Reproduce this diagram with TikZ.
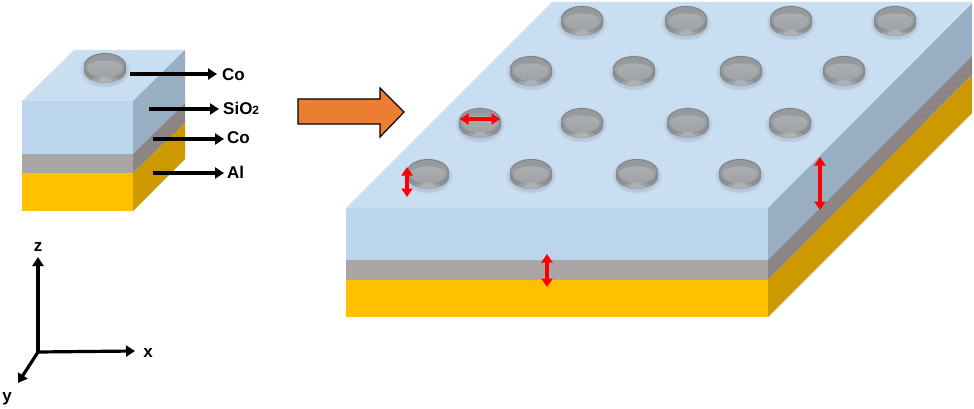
\documentclass[tikz,border=0pt]{standalone}
\usepackage{fontspec}
\setmainfont{Liberation Sans}
\usetikzlibrary{arrows.meta}
\definecolor{topblue}{HTML}{C9DEF1}
\definecolor{frontblue}{HTML}{BBD6EC}
\definecolor{sideblue}{HTML}{97AEC3}
\definecolor{frontgrey}{HTML}{ABA6A6}
\definecolor{sidegrey}{HTML}{8C8585}
\definecolor{frontgold}{HTML}{FFC000}
\definecolor{sidegold}{HTML}{CC9900}
\definecolor{arroworange}{HTML}{ED7D31}
\definecolor{rimdark}{HTML}{7E8388}
\definecolor{rimlight}{HTML}{8F9499}
\definecolor{facedark}{HTML}{94989C}
\definecolor{facelight}{HTML}{ABADB0}
\definecolor{lensgrey}{HTML}{A0A3A6}
\tikzset{
  x=1pt,y=-1pt,
  labeltext/.style={font=\bfseries\fontsize{17}{19}\selectfont,text=black,inner sep=0pt,anchor=west},
  axistext/.style={font=\bfseries\fontsize{17}{19}\selectfont,text=black,inner sep=0pt},
  blackarrow/.style={draw=black,line width=3.2pt,-{Triangle[length=9pt,width=11pt]}},
  axisarrow/.style={draw=black,line width=3.2pt,-{Triangle[length=9pt,width=11pt]}},
  redarrow/.style={draw=red,line width=4pt,{Triangle[length=8.5pt,width=11pt]}-{Triangle[length=8.5pt,width=11pt]}},
  pics/disk/.style={code={
    \foreach \g in {25,24,23,22}{\fill[black,opacity=.025] (0,2) ellipse ({\g} and {\g*.72});}
    \path[top color=rimdark,bottom color=rimlight]
      (-21,-2) arc[start angle=180,end angle=0,x radius=21,y radius=-13]
      -- (21,3) arc[start angle=0,end angle=180,x radius=21,y radius=12] -- cycle;
    \path[top color=facedark,bottom color=lensgrey] (0,-2) ellipse (19.5 and 12);
    \path[top color=facelight,bottom color=lensgrey]
      (-17.5,-1) arc[start angle=180,end angle=0,x radius=17.5,y radius=-6.5]
      arc[start angle=0,end angle=180,x radius=17.5,y radius=10] -- cycle;
    \fill[white,opacity=.14] (0,12) ellipse (13 and 3);
    \fill[white,opacity=.18] (0,12.3) ellipse (7.5 and 2.2);
  }}
}
\begin{document}
\begin{tikzpicture}
\useasboundingbox (0,0) rectangle (974,409);
% small stack
\fill[frontgold] (22,173) rectangle (133,211);
\fill[frontgrey] (22,154) rectangle (133,173);
\fill[frontblue] (22,101) rectangle (133,154);
\fill[topblue] (22,101) -- (74,50) -- (185,50) -- (133,101) -- cycle;
\fill[sideblue] (133,101) -- (185,50) -- (185,103) -- (133,154) -- cycle;
\fill[sidegrey] (133,154) -- (185,103) -- (185,123) -- (133,173) -- cycle;
\fill[sidegold] (133,173) -- (185,123) -- (185,159) -- (133,211) -- cycle;
\pic at (105,68) {disk};
% large stack
\fill[frontgold] (346,280) rectangle (768,317);
\fill[frontgrey] (346,260) rectangle (768,280);
\fill[frontblue] (346,208) rectangle (768,260);
\fill[topblue] (346,208) -- (552,2) -- (972,2) -- (768,208) -- cycle;
\fill[sideblue] (768,208) -- (972,3) -- (972,56) -- (768,260) -- cycle;
\fill[sidegrey] (768,260) -- (972,56) -- (972,75) -- (768,280) -- cycle;
\fill[sidegold] (768,280) -- (972,75) -- (972,113) -- (768,317) -- cycle;
\foreach \px/\py in {582/21,686/21,791/21,895/21,
                     531/71,634/71,741/71,844/71,
                     480/123,582/123,688/123,790/123,
                     428/174,531/174,637/174,740/174}
  {\pic at (\px,\py) {disk};}
% labels and leaders
\coordinate (a1) at (130,74);
\coordinate (a2) at (149,109);
\coordinate (a3) at (153,139);
\coordinate (a4) at (153,173);
\node[labeltext] (l1) at (222,74.5) {Co};
\node[labeltext] (l2) at (223,108.5) {SiO{\fontsize{12}{13}\selectfont 2}};
\node[labeltext] (l3) at (227,138) {Co};
\node[labeltext] (l4) at (227,172) {Al};
\draw[blackarrow] (a1) -- ([xshift=-5pt]a1 -| l1.west);
\draw[blackarrow] (a2) -- ([xshift=-4pt]a2 -| l2.west);
\draw[blackarrow] (a3) -- ([xshift=-3pt]a3 -| l3.west);
\draw[blackarrow] (a4) -- ([xshift=-3pt]a4 -| l4.west);
% big arrow
\draw[draw=black,line width=1.2pt,fill=arroworange,line join=miter]
  (298,99) -- (380,99) -- (380,88) -- (404,112) -- (380,137) -- (380,124) -- (298,124) -- cycle;
% red arrows
\coordinate (r1a) at (460,119); \coordinate (r1b) at (500,119);
\coordinate (r2a) at (407,167); \coordinate (r2b) at (407,197);
\coordinate (r3a) at (547,254); \coordinate (r3b) at (547,287);
\coordinate (r4a) at (820,157); \coordinate (r4b) at (820,210);
\draw[redarrow] (r1a) -- (r1b);
\draw[redarrow] (r2a) -- (r2b);
\draw[redarrow] (r3a) -- (r3b);
\draw[redarrow] (r4a) -- (r4b);
% axes
\coordinate (o) at (38,352);
\node[axistext] (zl) at (38,247) {z};
\node[axistext] (xl) at (148,353) {x};
\node[axistext] (yl) at (7,399) {y};
\draw[axisarrow] (o) -- (38,257);
\draw[axisarrow] (o) -- (135,351);
\draw[axisarrow] (o) -- (18,383);
\end{tikzpicture}
\end{document}
